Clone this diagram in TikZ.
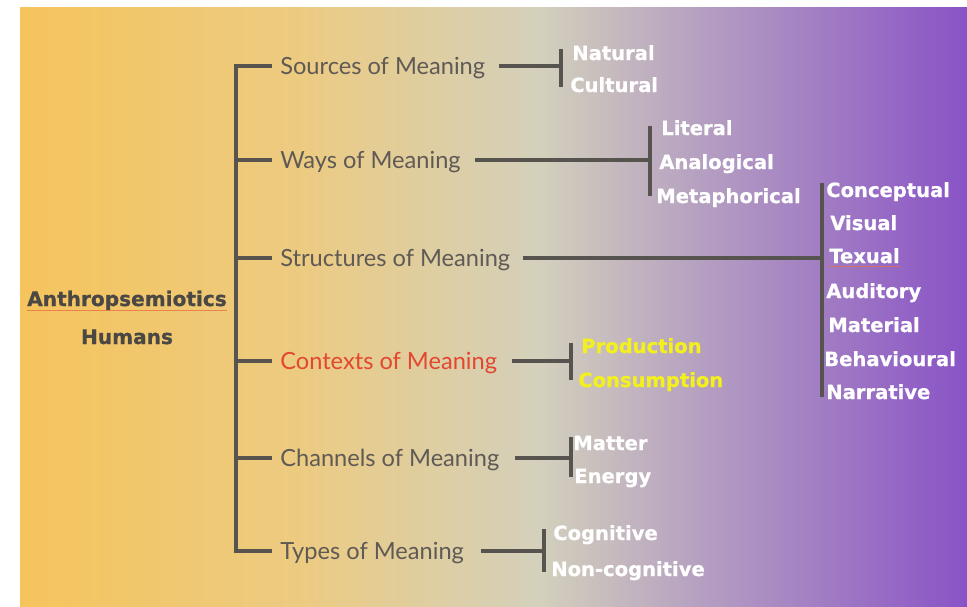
\documentclass[tikz,border=0pt]{standalone}
\usepackage{fontspec}
\setmainfont{Lato}
\newfontfamily\leaffont{DejaVu Sans}[BoldFeatures={FakeBold=0.7}]
\usepackage{xcolor}
\usetikzlibrary{positioning,calc}

\definecolor{bgA}{HTML}{F5C45C}
\definecolor{bgB}{HTML}{ECCB82}
\definecolor{bgC}{HTML}{D3D0BC}
\definecolor{bgD}{HTML}{B59FC1}
\definecolor{bgE}{HTML}{8953C6}
\definecolor{linegrey}{HTML}{57544F}
\definecolor{textgrey}{HTML}{5F5A55}
\definecolor{rootgrey}{HTML}{4A4744}
\definecolor{ctxred}{HTML}{E2472F}
\definecolor{leafyellow}{HTML}{F4F01E}
\definecolor{spellred}{HTML}{E8704A}

\pgfdeclarehorizontalshading{meaningbg}{100bp}{color(0bp)=(bgA); color(25bp)=(bgA); color(40bp)=(bgB); color(52.5bp)=(bgC); color(61bp)=(bgD); color(75bp)=(bgE); color(100bp)=(bgE)}

\begin{document}
\begin{tikzpicture}[
    x=0.025cm, y=-0.025cm,
    stem/.style={draw=linegrey, line width=2.5pt},
    bracket/.style={draw=linegrey, line width=2.5pt},
    branch/.style={anchor=west, inner xsep=5.7pt, inner ysep=0pt, text height=12pt, text depth=0pt, font=\fontsize{16.8}{20}\selectfont, text=textgrey},
    leaf/.style={anchor=base west, inner sep=0pt, font=\leaffont\bfseries\fontsize{13.9}{15}\selectfont, text=white},
    rootlabel/.style={anchor=base, inner sep=0pt, font=\leaffont\bfseries\fontsize{14.3}{15}\selectfont, text=rootgrey},
    spell/.style={draw=spellred, line width=0.4pt, opacity=0.8}
]
    \useasboundingbox (0,0) rectangle (967,606);
    \fill[white] (0,0) rectangle (967,606);
    \fill[shading=meaningbg] (20,7) rectangle (967,606);

    % Root
    \node[rootlabel] (root) at (127,306) {Anthropsemiotics};
    \node[rootlabel] (humans) at (127,344) {Humans};
    \draw[spell] ($(root.base west)+(0,4)$) -- ($(root.base east)+(0,4)$);

    % Branches
    \coordinate (trunk) at (236,0);
    \node[branch] (src) at (272,66) {Sources of Meaning};
    \node[branch] (ways) at (272,160) {Ways of Meaning};
    \node[branch] (struct) at (272,258) {Structures of Meaning};
    \node[branch, text=ctxred] (ctx) at (272,361) {Contexts of Meaning};
    \node[branch] (chan) at (272,458) {Channels of Meaning};
    \node[branch] (types) at (272,551) {Types of Meaning};

    \draw[stem] (src.west) -- (trunk |- src.west) |- (types.west);
    \draw[stem] (trunk |- ways.west) -- (ways.west);
    \draw[stem] (trunk |- struct.west) -- (struct.west);
    \draw[stem] (trunk |- ctx.west) -- (ctx.west);
    \draw[stem] (trunk |- chan.west) -- (chan.west);

    % Sources
    \coordinate (srcT) at (561,49);
    \coordinate (srcB) at (561,87);
    \draw[bracket] (srcT) -- (srcB);
    \draw[stem, shorten <=4pt] (src.east) -- (src.east -| srcT);
    \node[leaf] (nat) at (572,60) {Natural};
    \node[leaf] (cult) at (570,92) {Cultural};

    % Ways
    \coordinate (waysT) at (650,126);
    \coordinate (waysB) at (650,196);
    \draw[bracket] (waysT) -- (waysB);
    \draw[stem, shorten <=4pt] (ways.east) -- (ways.east -| waysT);
    \node[leaf] (lit) at (661,135) {Literal};
    \node[leaf] (ana) at (659,169) {Analogical};
    \node[leaf] (meta) at (656,203) {Metaphorical};

    % Structures
    \coordinate (structT) at (822,183);
    \coordinate (structB) at (822,397);
    \draw[bracket] (structT) -- (structB);
    \draw[stem, shorten <=3pt] (struct.east) -- (struct.east -| structT);
    \node[leaf] (conc) at (826,197) {Conceptual};
    \node[leaf] (vis) at (830,230) {Visual};
    \node[leaf] (tex) at (829,263) {Texual};
    \node[leaf] (aud) at (826,298) {Auditory};
    \node[leaf] (mat) at (828,332) {Material};
    \node[leaf] (beh) at (824,366) {Behavioural};
    \node[leaf] (narr) at (826,399) {Narrative};
    \draw[spell] ($(tex.base west)+(0,3)$) -- ($(tex.base east)+(0,3)$);

    % Contexts
    \coordinate (ctxT) at (571,343);
    \coordinate (ctxB) at (571,380);
    \draw[bracket] (ctxT) -- (ctxB);
    \draw[stem, shorten <=5pt] (ctx.east) -- (ctx.east -| ctxT);
    \node[leaf, text=leafyellow] (prod) at (581,353) {Production};
    \node[leaf, text=leafyellow] (cons) at (578,387) {Consumption};

    % Channels
    \coordinate (chanT) at (571,437);
    \coordinate (chanB) at (571,477);
    \draw[bracket] (chanT) -- (chanB);
    \draw[stem, shorten <=5pt] (chan.east) -- (chan.east -| chanT);
    \node[leaf] (matt) at (573,450) {Matter};
    \node[leaf] (ener) at (574,483) {Energy};

    % Types
    \coordinate (typesT) at (544,529);
    \coordinate (typesB) at (544,572);
    \draw[bracket] (typesT) -- (typesB);
    \draw[stem, shorten <=6pt] (types.east) -- (types.east -| typesT);
    \node[leaf] (cog) at (553,540) {Cognitive};
    \node[leaf] (noncog) at (551,576) {Non-cognitive};
\end{tikzpicture}
\end{document}
